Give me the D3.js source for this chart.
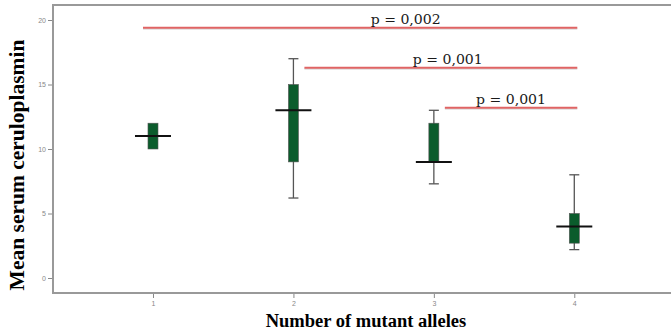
<!DOCTYPE html>
<html><head><meta charset="utf-8">
<script src="https://cdn.jsdelivr.net/npm/d3@7"></script>
<style>body{margin:0;background:#fff}</style>
</head><body>
<svg id="c" width="671" height="333"></svg>
<script>
const categories = [1, 2, 3, 4];
const means      = [11.0, 13.0, 9.0, 4.0];
const boxLow     = [10.0, 9.0, 9.0, 2.7];
const boxHigh    = [12.0, 15.0, 12.0, 5.0];
const whiskLow   = [null, 6.2, 7.3, 2.2];
const whiskHigh  = [null, 17.0, 13.0, 8.0];
const yTicks     = [0, 5, 10, 15, 20];
const compFrom   = [1, 2, 3];
const compTo     = [4, 4, 4];
const compLevel  = [19.4, 16.3, 13.2];
const compLabels = ["p = 0,002", "p = 0,001", "p = 0,001"];
const compLabelX = [2.55, 2.85, 3.3];

const svg = d3.select("#c");
const L = 53, T = 5, B = 293, R = 674;
const x = d3.scaleLinear().domain([0.288, 4.71]).range([L, R]);
const y = d3.scaleLinear().domain([0, 20]).range([278, 20]);

// frame
svg.append("line").attr("x1", L).attr("x2", 671).attr("y1", T).attr("y2", T)
  .attr("stroke", "#999").attr("stroke-width", 2);
// axes
const yAx = svg.append("g").attr("transform", `translate(${L},0)`)
  .call(d3.axisLeft(y).tickValues(yTicks).tickSize(5).tickPadding(2));
yAx.select(".domain").remove();
svg.append("line").attr("x1", L).attr("x2", L).attr("y1", T - 1).attr("y2", B + 1)
  .attr("stroke", "#999").attr("stroke-width", 2);
const xAx = svg.append("g").attr("transform", `translate(0,${B})`)
  .call(d3.axisBottom(x).tickValues(categories).tickFormat(d3.format("d")).tickSize(5).tickPadding(3));
xAx.select(".domain").remove();
svg.append("line").attr("x1", L).attr("x2", 671).attr("y1", B).attr("y2", B)
  .attr("stroke", "#999").attr("stroke-width", 2);
svg.selectAll(".tick line").attr("stroke", "#888");
svg.selectAll(".tick text").attr("fill", "#888").attr("font-size", 7)
  .attr("font-family", "Liberation Sans, Arial, sans-serif");

// boxes and whiskers
const g = svg.append("g");
categories.forEach((c, i) => {
  const cx = x(c);
  if (whiskHigh[i] != null) {
    g.append("line").attr("x1", cx).attr("x2", cx).attr("y1", y(whiskHigh[i])).attr("y2", y(whiskLow[i]))
      .attr("stroke", "#555").attr("stroke-width", 1.3);
    [whiskHigh[i], whiskLow[i]].forEach(v => {
      g.append("line").attr("x1", cx - 5).attr("x2", cx + 5).attr("y1", y(v)).attr("y2", y(v))
        .attr("stroke", "#555").attr("stroke-width", 1.3);
    });
  }
  g.append("rect").attr("x", cx - 5).attr("width", 10)
    .attr("y", y(boxHigh[i])).attr("height", y(boxLow[i]) - y(boxHigh[i]))
    .attr("fill", "#0b5c2c").attr("stroke", "#555").attr("stroke-width", 0.6);
  g.append("line").attr("x1", cx - 18).attr("x2", cx + 18).attr("y1", y(means[i])).attr("y2", y(means[i]))
    .attr("stroke", "#111").attr("stroke-width", 2);
});

// comparison lines
compFrom.forEach((f, i) => {
  const yy = y(compLevel[i]);
  const x1 = i === 0 ? x(f) - 10 : x(f) + 11;
  svg.append("line").attr("x1", x1).attr("x2", x(compTo[i]) + 3).attr("y1", yy + 1).attr("y2", yy + 1)
    .attr("stroke", "#ddd").attr("stroke-width", 2);
  svg.append("line").attr("x1", x1).attr("x2", x(compTo[i]) + 3).attr("y1", yy).attr("y2", yy)
    .attr("stroke", "#e06464").attr("stroke-width", 2);
  svg.append("text").attr("x", x(compLabelX[i])).attr("y", yy - 3.5)
    .attr("font-family", "DejaVu Serif, serif").attr("font-size", 12.5).attr("fill", "#1a1a1a")
    .attr("textLength", 70).attr("lengthAdjust", "spacingAndGlyphs")
    .text(compLabels[i]);
});

// axis titles
svg.append("text").attr("transform", "translate(24,165) rotate(-90)")
  .attr("text-anchor", "middle").attr("font-family", "Liberation Serif, Times New Roman, serif")
  .attr("font-weight", "bold").attr("font-size", 21.5).attr("fill", "#000")
  .text("Mean serum ceruloplasmin");
svg.append("text").attr("x", 366).attr("y", 327)
  .attr("text-anchor", "middle").attr("font-family", "Liberation Serif, Times New Roman, serif")
  .attr("font-weight", "bold").attr("font-size", 18.5).attr("fill", "#000")
  .text("Number of mutant alleles");
</script>
</body></html>
